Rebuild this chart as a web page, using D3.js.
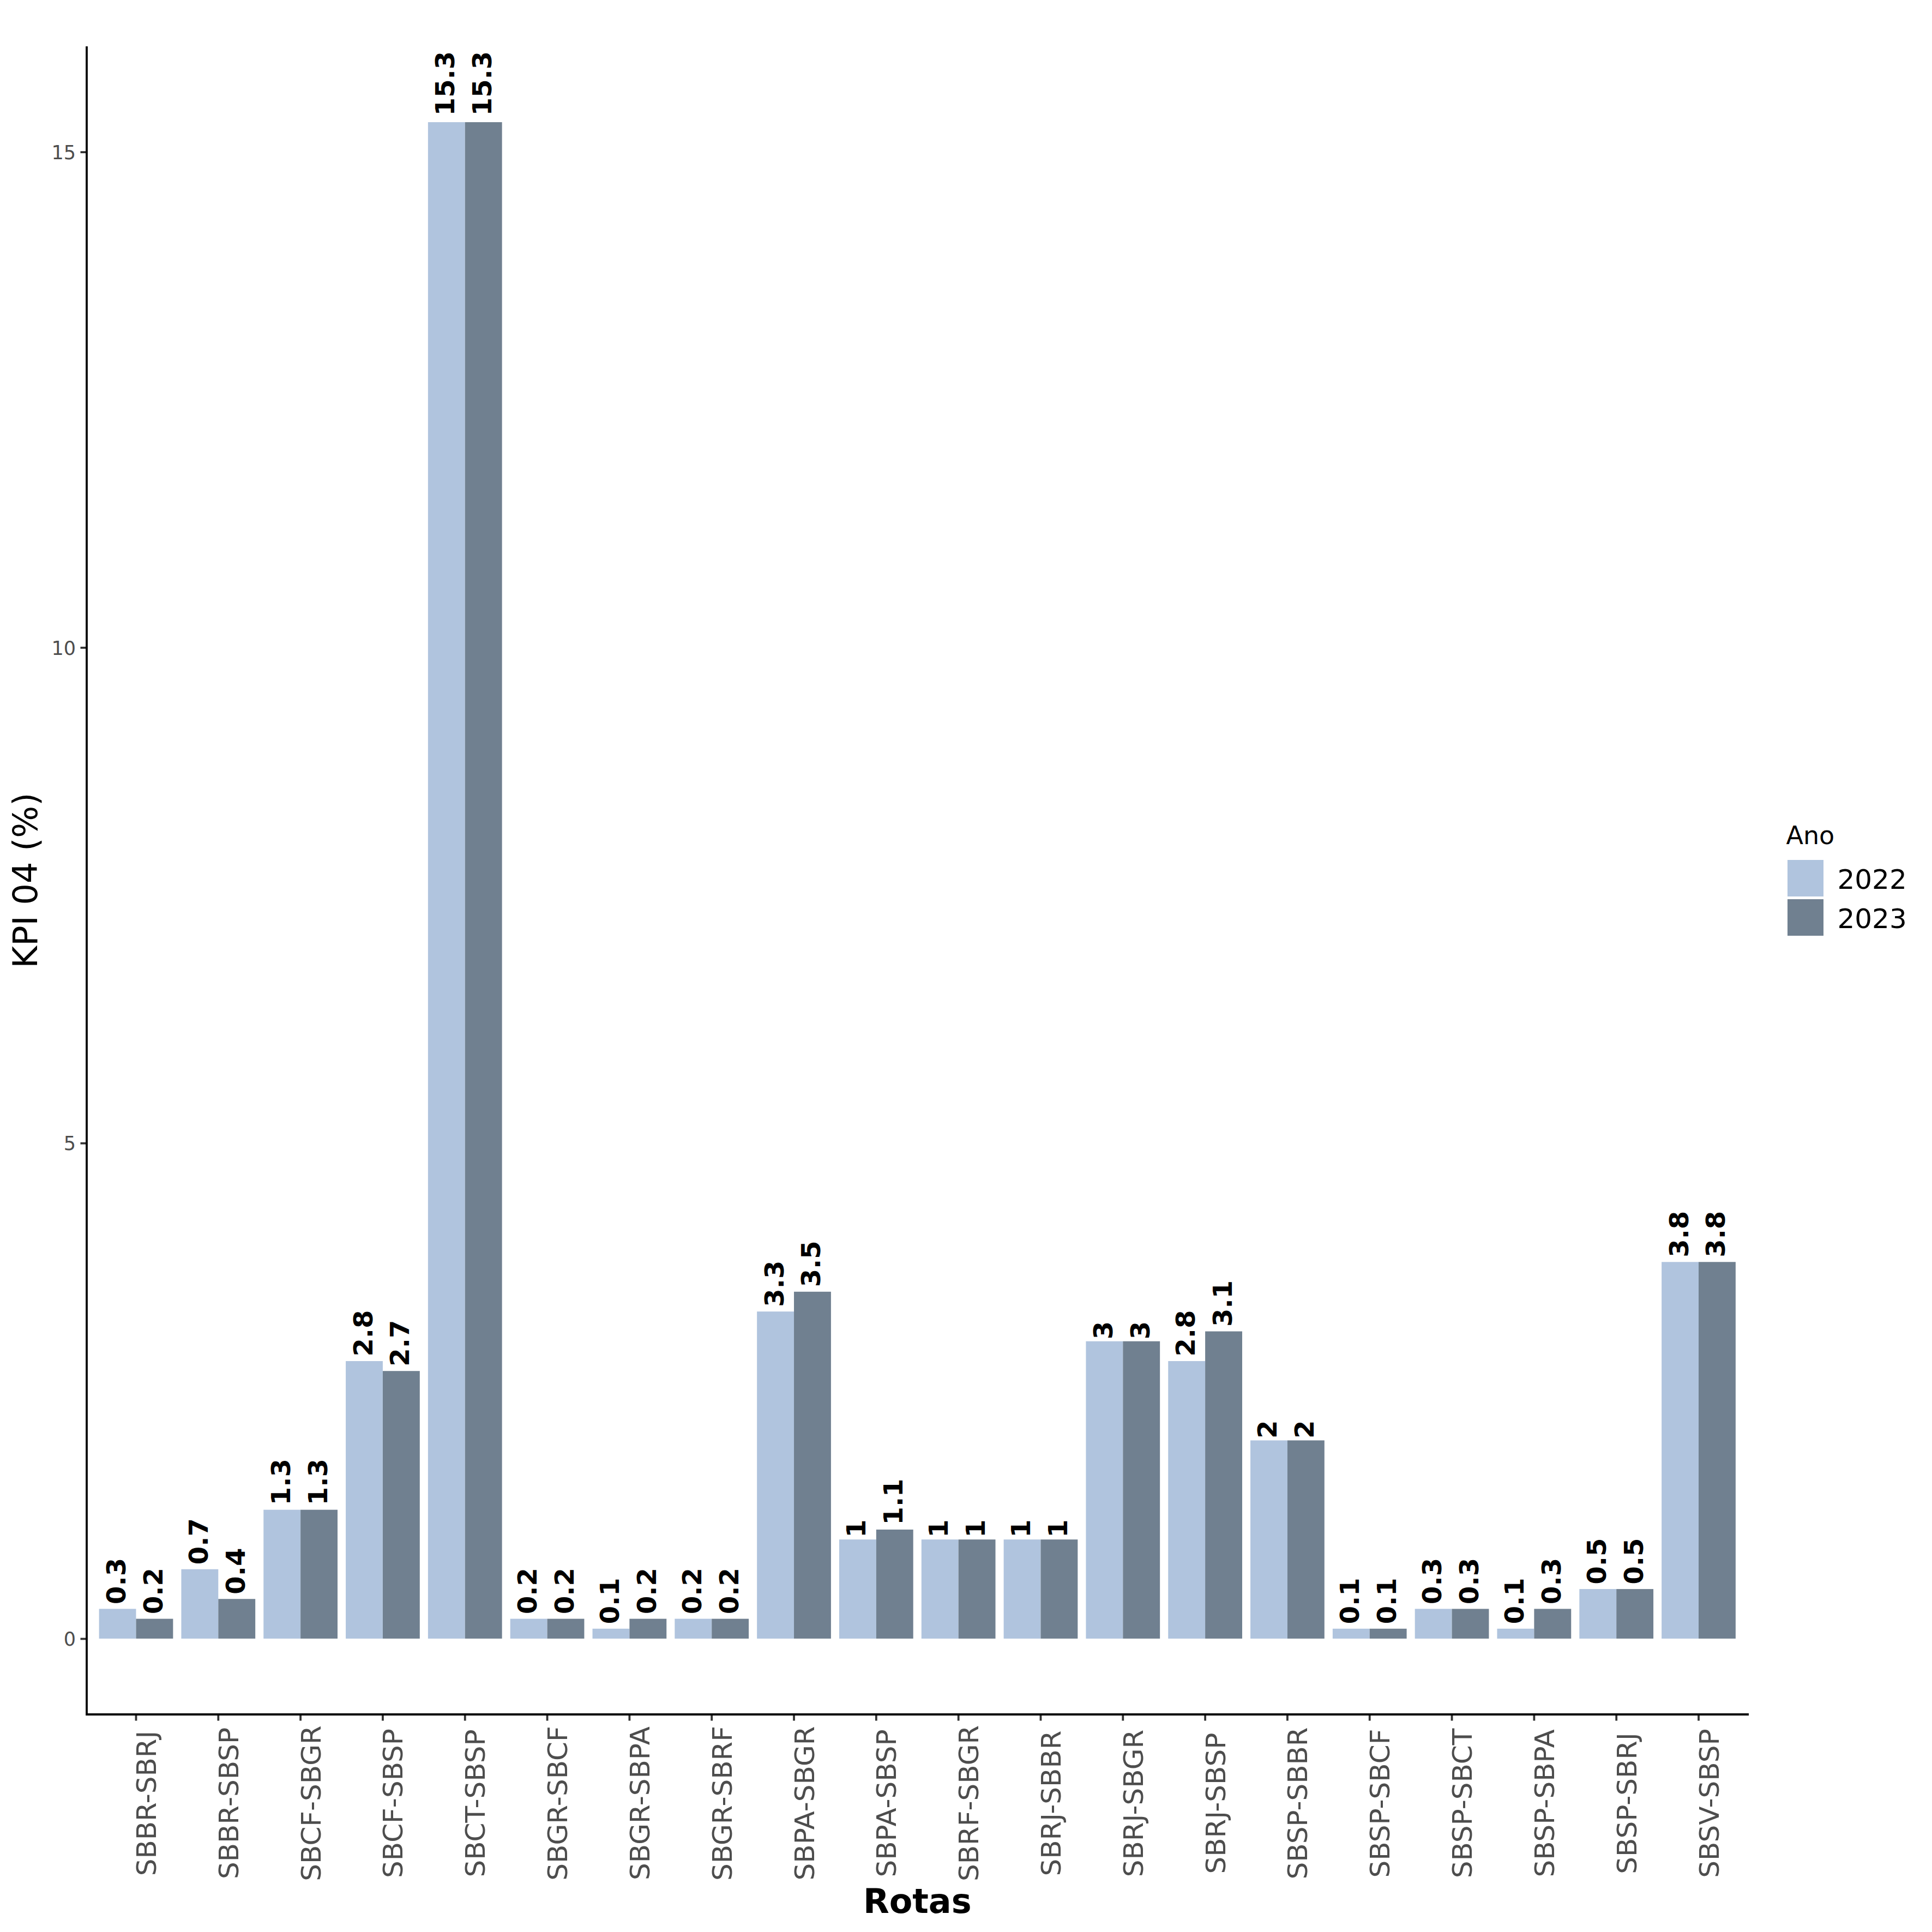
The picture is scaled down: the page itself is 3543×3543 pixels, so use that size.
<!DOCTYPE html>
<html>
<head>
<meta charset="utf-8">
<script src="https://cdn.jsdelivr.net/npm/d3@7"></script>
<style>
  html, body { margin: 0; padding: 0; background: #fff; }
  svg { display: block; }
  text { font-family: "DejaVu Sans", sans-serif; }
</style>
</head>
<body>
<script>
const categories = ["SBBR-SBRJ","SBBR-SBSP","SBCF-SBGR","SBCF-SBSP","SBCT-SBSP","SBGR-SBCF","SBGR-SBPA","SBGR-SBRF","SBPA-SBGR","SBPA-SBSP","SBRF-SBGR","SBRJ-SBBR","SBRJ-SBGR","SBRJ-SBSP","SBSP-SBBR","SBSP-SBCF","SBSP-SBCT","SBSP-SBPA","SBSP-SBRJ","SBSV-SBSP"];
const values2022 = [0.3,0.7,1.3,2.8,15.3,0.2,0.1,0.2,3.3,1,1,1,3,2.8,2,0.1,0.3,0.1,0.5,3.8];
const values2023 = [0.2,0.4,1.3,2.7,15.3,0.2,0.2,0.2,3.5,1.1,1,1,3,3.1,2,0.1,0.3,0.3,0.5,3.8];
const years = ["2022","2023"];
const yearColors = ["#B0C4DE","#708090"];
const yTicks = [0,5,10,15];

const W = 3543, H = 3543;
const L = 159, R = 3205.5, T = 85, B = 3144;

const svg = d3.select("body").append("svg").attr("width", W).attr("height", H);
svg.append("rect").attr("width", W).attr("height", H).attr("fill", "#fff");

const rows = [];
categories.forEach((c, i) => {
  rows.push({cat: c, year: years[0], v: values2022[i]});
  rows.push({cat: c, year: years[1], v: values2023[i]});
});

const maxV = d3.max(rows, d => d.v);
const pad = maxV * 0.05;
const x = d3.scaleBand().domain(categories).range([L, R]).paddingInner(0.1).paddingOuter(0.15);
const xs = d3.scaleBand().domain(years).range([0, x.bandwidth()]);
const y = d3.scaleLinear().domain([-pad, maxV + pad]).range([B, T]);
const color = d3.scaleOrdinal().domain(years).range(yearColors);

// bars
svg.append("g").selectAll("rect").data(rows).join("rect")
  .attr("x", d => x(d.cat) + xs(d.year))
  .attr("width", xs.bandwidth())
  .attr("y", d => y(d.v))
  .attr("height", d => y(0) - y(d.v))
  .attr("fill", d => color(d.year));

// bar labels
const lfs = 48;
const labels = svg.append("g").selectAll("text").data(rows).join("text")
  .attr("transform", d => `translate(${x(d.cat) + xs(d.year) + xs.bandwidth()/2},${y(d.v)}) rotate(-90)`)
  .attr("font-size", lfs)
  .attr("font-weight", "bold")
  .attr("fill", "#000")
  .attr("text-anchor", "start")
  .attr("y", 0.3645 * lfs - 3)
  .text(d => d3.format("~g")(d.v));
labels.each(function() {
  const len = this.getComputedTextLength();
  d3.select(this).attr("x", 0.1 * len);
});

// y axis
const yAxis = d3.axisLeft(y).tickValues(yTicks).tickSize(11.5).tickPadding(8.5).tickFormat(d3.format("d"));
const gy = svg.append("g").attr("transform", `translate(${L},0)`).call(yAxis);
gy.select(".domain").remove();
gy.selectAll(".tick line").attr("stroke", "#333333").attr("stroke-width", 3.8);
gy.selectAll(".tick text").attr("font-size", 35).attr("fill", "#4D4D4D")
  .attr("font-family", "DejaVu Sans").attr("dy", null).attr("dominant-baseline", null)
  .attr("y", 12.8);

// x axis
const xAxis = d3.axisBottom(x).tickSize(11.5).tickSizeOuter(0);
const gx = svg.append("g").attr("transform", `translate(0,${B})`).call(xAxis);
gx.select(".domain").remove();
gx.selectAll(".tick line").attr("stroke", "#333333").attr("stroke-width", 3.8);
gx.selectAll(".tick text")
  .attr("font-size", 50).attr("fill", "#4D4D4D").attr("font-family", "DejaVu Sans")
  .attr("dy", null)
  .attr("text-anchor", "middle")
  .attr("x", 0).attr("y", 36.5)
  .attr("transform", `translate(0,${3307 - B}) rotate(-90)`);

// axis lines
svg.append("path")
  .attr("d", `M${L},${T}V${B}H${R + 1.5}`)
  .attr("fill", "none").attr("stroke", "#000").attr("stroke-width", 3.8)
  .attr("stroke-linecap", "butt").attr("stroke-linejoin", "miter");

// axis titles
svg.append("text")
  .attr("transform", `translate(68.3,${(T + B)/2}) rotate(-90)`)
  .attr("text-anchor", "middle").attr("font-size", 62).attr("fill", "#000")
  .text("KPI 04 (%)");
svg.append("text")
  .attr("x", (L + R)/2).attr("y", 3507.7)
  .attr("text-anchor", "middle").attr("font-size", 62).attr("font-weight", "bold").attr("fill", "#000")
  .text("Rotas");

// legend
const lg = svg.append("g");
lg.append("text").attr("x", 3275.5).attr("y", 1548).attr("font-size", 46).attr("fill", "#000").text("Ano");
years.forEach((yr, i) => {
  lg.append("rect").attr("x", 3278).attr("y", 1577 + i*72).attr("width", 66).attr("height", 67)
    .attr("fill", color(yr));
  lg.append("text").attr("x", 3369.5).attr("y", 1630 + i*72).attr("font-size", 50).attr("fill", "#000").text(yr);
});
</script>
</body>
</html>
